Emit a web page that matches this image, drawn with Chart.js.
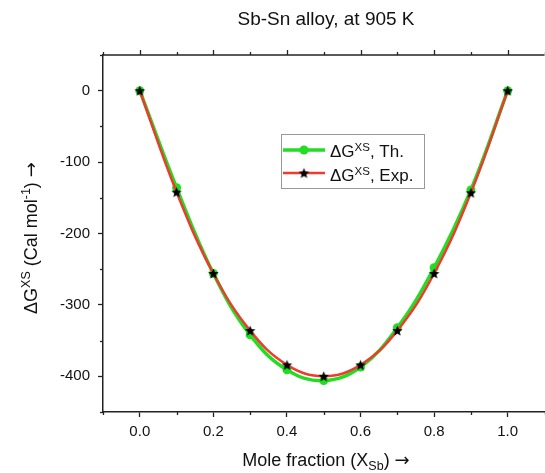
<!DOCTYPE html>
<html>
<head>
<meta charset="utf-8">
<script src="https://cdn.jsdelivr.net/npm/chart.js@4.4.1/dist/chart.umd.min.js"></script>
<style>
  html, body { margin: 0; padding: 0; background: #fff; overflow: hidden; }
  #wrap { width: 545px; height: 473px; overflow: hidden; }
</style>
</head>
<body>
<div id="wrap"><canvas id="chart" width="552" height="473"></canvas></div>
<script>
// data
const moleFractions = [0, 0.1, 0.2, 0.3, 0.4, 0.5, 0.6, 0.7, 0.8, 0.9, 1.0];
const gTheory = [0, -136, -256, -342, -391, -406, -387, -332, -248, -139, 0];
const gExp = [0, -142, -256, -336, -384, -400, -384, -336, -256, -143, 0];
const xTicks = [0, 0.2, 0.4, 0.6, 0.8, 1.0];
const yTicks = [0, -100, -200, -300, -400];

const FONT = "'Liberation Sans', Arial, sans-serif";
const ARROW_FONT = "'DejaVu Sans', sans-serif";
const GREEN = "#22dd22";
const RED = "#ee3b30";
const AXIS = "#222";

function makeStar(r) {
  const c = document.createElement("canvas");
  const s = Math.ceil(r * 2 + 2);
  c.width = c.height = s;
  const g = c.getContext("2d");
  g.translate(s / 2, s / 2 + 0.5);
  g.beginPath();
  for (let i = 0; i < 10; i++) {
    const rad = i % 2 ? r * 0.45 : r;
    const a = -Math.PI / 2 + i * Math.PI / 5;
    g.lineTo(rad * Math.cos(a), rad * Math.sin(a));
  }
  g.closePath();
  g.fillStyle = "#000";
  g.fill();
  return c;
}
const star = makeStar(5.5);

// text runs with sub/superscripts: [text, size, dy, family]
function setFont(ctx, p) { ctx.font = p[1] + "px " + (p[3] || FONT); }
function drawRich(ctx, parts, x, y) {
  let w = 0;
  parts.forEach(p => { setFont(ctx, p); w += ctx.measureText(p[0]).width; });
  drawLeft(ctx, parts, x - w / 2, y);
}
function drawLeft(ctx, parts, x, y) {
  let cx = x;
  parts.forEach(p => {
    setFont(ctx, p);
    ctx.fillText(p[0], cx, y + (p[2] || 0));
    cx += ctx.measureText(p[0]).width;
  });
}

const decor = {
  id: "decor",
  afterDraw(chart) {
    const ctx = chart.ctx;
    const xs = chart.scales.x, ys = chart.scales.y;
    const a = chart.chartArea;
    ctx.save();
    ctx.strokeStyle = AXIS;
    ctx.lineWidth = 1.5;
    // top axis line
    ctx.beginPath();
    ctx.moveTo(a.left, a.top);
    ctx.lineTo(a.right, a.top);
    ctx.stroke();
    ctx.lineWidth = 1.3;
    // x ticks: top (major + minor), bottom minor
    for (let i = -1; i <= 11; i++) {
      const px = Math.round(xs.getPixelForValue(i / 10)) + 0.5;
      const major = i % 2 === 0 && i >= 0 && i <= 10;
      ctx.beginPath();
      ctx.moveTo(px, a.top);
      ctx.lineTo(px, a.top - (major ? 5 : 3));
      if (!major) {
        ctx.moveTo(px, a.bottom);
        ctx.lineTo(px, a.bottom + 3);
      }
      ctx.stroke();
    }
    // y minor ticks
    for (let v = 50; v >= -450; v -= 100) {
      const py = Math.round(ys.getPixelForValue(v)) + 0.5;
      ctx.beginPath();
      ctx.moveTo(a.left, py);
      ctx.lineTo(a.left - 3, py);
      ctx.stroke();
    }

    ctx.fillStyle = "#111";
    ctx.textBaseline = "alphabetic";
    // chart title
    drawRich(ctx, [["Sb-Sn alloy, at 905 K", 19]], 326, 25);
    // x title
    drawRich(ctx, [["Mole fraction (X", 18], ["Sb", 12.5, 4], [") ", 18], ["\u2192", 18, 0, ARROW_FONT]], 326, 466);
    // y title
    ctx.save();
    ctx.translate(37, 238);
    ctx.rotate(-Math.PI / 2);
    drawRich(ctx, [["\u0394G", 18], ["XS", 12.5, -7], [" (Cal mol", 18], ["-1", 12.5, -7], [") ", 18], ["\u2192", 18, 0, ARROW_FONT]], 0, 0);
    ctx.restore();

    // legend
    ctx.strokeStyle = "#999";
    ctx.lineWidth = 1;
    ctx.strokeRect(281.5, 134.5, 143, 54);
    ctx.strokeStyle = GREEN;
    ctx.lineWidth = 3.5;
    ctx.beginPath();
    ctx.moveTo(283, 150);
    ctx.lineTo(325, 150);
    ctx.stroke();
    ctx.fillStyle = GREEN;
    ctx.beginPath();
    ctx.arc(304, 150, 4.5, 0, Math.PI * 2);
    ctx.fill();
    ctx.strokeStyle = RED;
    ctx.lineWidth = 2.5;
    ctx.beginPath();
    ctx.moveTo(283, 173);
    ctx.lineTo(325, 173);
    ctx.stroke();
    ctx.drawImage(star, 304 - star.width / 2, 173 - star.height / 2);
    ctx.fillStyle = "#111";
    drawLeft(ctx, [["\u0394G", 17], ["XS", 11.5, -6], [", Th.", 17]], 330, 157);
    drawLeft(ctx, [["\u0394G", 17], ["XS", 11.5, -6], [", Exp.", 17]], 330, 181);
    ctx.restore();
  }
};

new Chart(document.getElementById("chart"), {
  type: "line",
  data: {
    datasets: [
      {
        label: "Th.",
        data: moleFractions.map((x, i) => ({ x: x, y: gTheory[i] })),
        borderColor: GREEN,
        backgroundColor: GREEN,
        borderWidth: 3.5,
        pointStyle: "circle",
        pointRadius: 4.5,
        pointBorderWidth: 0,
        tension: 0.4,
        order: 1
      },
      {
        label: "Exp.",
        data: moleFractions.map((x, i) => ({ x: x, y: gExp[i] })),
        borderColor: RED,
        backgroundColor: "#000",
        borderWidth: 2.5,
        pointStyle: star,
        pointRadius: 5,
        tension: 0.4,
        order: 0
      }
    ]
  },
  options: {
    responsive: false,
    animation: false,
    layout: { padding: { top: 55, right: 3, left: 0, bottom: 0 } },
    plugins: { legend: { display: false }, tooltip: { enabled: false } },
    scales: {
      x: {
        type: "linear",
        min: -0.1,
        max: 1.1,
        afterBuildTicks: s => { s.ticks = xTicks.map(v => ({ value: v })); },
        afterFit: s => { s.height = 61; },
        grid: { drawOnChartArea: false, drawTicks: true, tickLength: 5, tickColor: AXIS, tickWidth: 1.3 },
        border: { display: true, color: AXIS, width: 1.5 },
        ticks: {
          padding: 6,
          color: "#111",
          font: { family: FONT, size: 15 },
          maxRotation: 0,
          callback: v => Number(v).toFixed(1)
        }
      },
      y: {
        type: "linear",
        min: -450,
        max: 50,
        afterBuildTicks: s => { s.ticks = yTicks.map(v => ({ value: v })); },
        afterFit: s => { s.width = 103; },
        grid: { drawOnChartArea: false, drawTicks: true, tickLength: 5, tickColor: AXIS, tickWidth: 1.3 },
        border: { display: true, color: AXIS, width: 1.5 },
        ticks: {
          padding: 8,
          color: "#111",
          font: { family: FONT, size: 15 },
          callback: v => String(v)
        }
      }
    }
  },
  plugins: [decor]
});
</script>
</body>
</html>
